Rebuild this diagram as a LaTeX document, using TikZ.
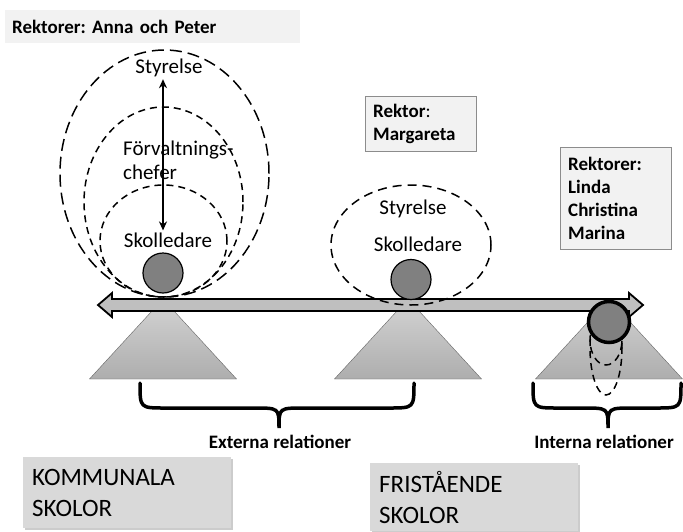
\documentclass[tikz,border=0pt]{standalone}
\usepackage{fontspec}
\setmainfont{Carlito}
\frenchspacing
\usetikzlibrary{arrows.meta,shadows}

\begin{document}
\begin{tikzpicture}[x=1pt,y=-1pt,
lbl/.style={font=\fontsize{21}{24}\selectfont, inner sep=2pt},
boldlbl/.style={font=\bfseries\fontsize{19}{23}\selectfont, inner sep=0pt},
rektorbox/.style={rectangle, draw=black!45, fill=black!5, anchor=north west, align=left, font=\bfseries\fontsize{19}{23}\selectfont, inner xsep=8pt, inner ysep=0pt},
skolbox/.style={rectangle, fill=black!15, anchor=north west, align=left, font=\fontsize{25}{31}\selectfont, inner xsep=9pt, inner ysep=0pt, text width=190pt, minimum height=71pt, drop shadow={opacity=0.4, shadow xshift=2pt, shadow yshift=-2pt}},
ball/.style={circle, draw=black, fill=black!50, line width=1.2pt, minimum size=40pt, inner sep=0pt},
fulcrum/.style={draw=black!60, thin, top color=black!17, bottom color=black!32},
longdash/.style={line width=1.5pt, dash pattern=on 12pt off 6pt},
shortdash/.style={line width=1.5pt, dash pattern=on 7pt off 5pt},
brace/.style={line width=3.5pt, line cap=round}
]
\useasboundingbox (0,0) rectangle (683,531);
\fill[white] (0,0) rectangle (683,531);

%Fulcrums
\path[fulcrum] (163,299) -- (236.5,379) -- (89.5,379) -- cycle;
\path[fulcrum] (408,299) -- (481.5,379) -- (334.5,379) -- cycle;
\path[fulcrum] (609,299) -- (682.5,379) -- (535.5,379) -- cycle;

%Bar
\draw[fill=black!25, line width=1.8pt, line join=miter] (98,305) -- (112,293) -- (112,299) -- (629,299) -- (629,293) -- (643,305) -- (629,317) -- (629,311) -- (112,311) -- (112,317) -- cycle;

%Ellipses
\draw[longdash] (164.5,173.5) ellipse [x radius=104.5pt, y radius=123.5pt];
\draw[shortdash] (163.5,202) ellipse [x radius=79.5pt, y radius=95pt];
\draw[shortdash] (163.5,241) ellipse [x radius=63.5pt, y radius=56pt];
\draw[longdash, dash pattern=on 9pt off 6pt] (411,245) ellipse [x radius=80pt, y radius=60pt];
\draw[shortdash] (606,348) ellipse [x radius=16pt, y radius=47pt];
\draw[shortdash] (606,340) ellipse [x radius=16pt, y radius=25pt];

%Balls
\node[ball] (ballA) at (163,273) {};
\node[ball] (ballB) at (411,279.5) {};
\node[ball, line width=3.5pt, minimum size=41pt] (ballC) at (609,322) {};

%Nodes
\node[lbl] (styrA) at (169,68) {Styrelse};
\node[lbl, anchor=west, align=left] (forvA) at (121,160) {Förvaltnings-\\chefer};
\node[lbl] (skolA) at (168,240) {Skolledare};
\node[lbl] (styrB) at (413,209) {Styrelse};
\node[lbl] (skolB) at (418,244) {Skolledare};

\coordinate (axisA) at (163,0);
\draw[{Stealth[length=9pt,width=8pt]}-{Stealth[length=9pt,width=8pt]}, line width=1.8pt] (styrA.south -| axisA) -- (skolA.north -| axisA);

%Boxes
\node[rektorbox, draw=none, text width=281pt, minimum height=33pt, inner xsep=7pt] (rektorA) at (5,10) {Rektorer: Anna och Peter};
\node[rektorbox, text width=95pt, minimum height=55pt] (rektorB) at (365,96) {Rektor{\mdseries :}\\Margareta};
\node[rektorbox, text width=95pt, minimum height=102pt] (rektorC) at (560,147) {Rektorer:\\Linda\\Christina\\Marina};
\node[skolbox] (kommunal) at (23,457) {KOMMUNALA\\SKOLOR};
\node[skolbox, minimum height=68pt] (friskola) at (370,463) {FRISTÅENDE\\SKOLOR};

%Braces
\draw[brace] (140,383) .. controls (140,408) and (140,408) .. (165,408) -- (254,408) .. controls (279,408) and (279,408) .. (279,428) .. controls (279,408) and (279,408) .. (304,408) -- (389,408) .. controls (414,408) and (414,408) .. (414,383);
\draw[brace] (533,383) .. controls (533,408) and (533,408) .. (558,408) -- (583,408) .. controls (608,408) and (608,408) .. (608,428) .. controls (608,408) and (608,408) .. (633,408) -- (656,408) .. controls (681,408) and (681,408) .. (681,383);
\node[boldlbl] (extern) at (280,442) {Externa relationer};
\node[boldlbl] (intern) at (604,442) {Interna relationer};

\end{tikzpicture}
\end{document}
